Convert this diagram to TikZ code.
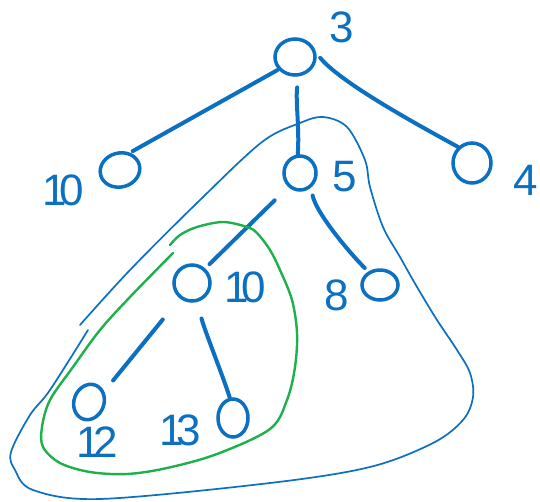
\documentclass[tikz,border=0pt]{standalone}
\usepackage{fontspec}
\setmainfont{Liberation Sans}
\usetikzlibrary{shapes.geometric}
\definecolor{inkblue}{HTML}{0B6FC2}
\definecolor{inkgreen}{HTML}{1DB04B}
\begin{document}
\begin{tikzpicture}[x=1pt,y=-1pt,
  vert/.style={ellipse,draw=inkblue,line width=3.5pt,inner sep=0pt},
  edge/.style={draw=inkblue,line width=4pt,line cap=round},
  lbl/.style={text=inkblue,font=\fontsize{44}{44}\selectfont,inner sep=0pt},
  loopb/.style={draw=inkblue,line width=1.7pt,line cap=round,line join=round},
  loopg/.style={draw=inkgreen,line width=2.4pt,line cap=round,line join=round}]
\useasboundingbox (0,0) rectangle (540,501);
% vertices
\node[vert,minimum width=40pt,minimum height=36pt] (r) at (295,57) {};
\node[vert,minimum width=40pt,minimum height=34pt,rotate=15] (a) at (120,170) {};
\node[vert,minimum width=32pt,minimum height=34pt] (b) at (300,173) {};
\node[vert,minimum width=38pt,minimum height=40pt] (c) at (472,163) {};
\node[vert,minimum width=36pt,minimum height=36pt] (d) at (192,283) {};
\node[vert,minimum width=36pt,minimum height=30pt] (e) at (380,285) {};
\node[vert,minimum width=30pt,minimum height=36pt,rotate=-20] (f) at (89,402) {};
\node[vert,minimum width=30pt,minimum height=38pt] (g) at (233,418) {};
% labels
\node[lbl] (lr) at (342,27) {3};
\node[lbl] (la) at (63,190) {1\kern-7pt 0};
\node[lbl] (lb) at (345,177) {5};
\node[lbl] (lc) at (526,180) {4};
\node[lbl] (ld) at (245,287) {1\kern-7pt 0};
\node[lbl] (le) at (337,295) {8};
\node[lbl] (lf) at (97,442) {1\kern-7pt 2};
\node[lbl] (lg) at (180,430) {1\kern-7pt 3};
% edges
\draw[edge,shorten <=1pt,shorten >=3pt] (r.217) -- (a.45);
\draw[edge,shorten <=11pt] (r.-80) .. controls +(-3,25) and +(2,-25) .. (b.97);
\draw[edge,shorten <=6pt] (r.10) .. controls +(25,30) and +(-40,-22) .. (c.131);
\draw[edge,shorten <=19pt,shorten >=6pt] (b.230) -- (d.48);
\draw[edge,shorten <=8pt,shorten >=5pt] (b.-53) .. controls +(5,25) and +(-20,-20) .. (e.131);
\draw[edge,shorten <=27pt,shorten >=14pt] (d.232) -- (f.55);
\draw[edge,shorten <=17pt] (d.-75) .. controls +(8,30) and +(-8,-25) .. (g.99);
% blue outer loop
\draw[loopb] plot[smooth,tension=0.55] coordinates {(80,325) (130,270) (200,200) (262,142) (300,123) (323,117) (347,127) (365,160) (370,187) (383,227) (400,257) (417,287) (437,320) (457,350) (470,373) (473,397) (463,420) (433,443) (370,467) (270,483) (100,499) (33,490) (15,470) (11,452) (30,415) (50,390) (88,330)};
% green loop
\draw[loopg] plot[smooth,tension=0.55] coordinates {(173,253) (130,297) (100,330) (73,367) (50,400) (42,427) (43,447) (60,463) (90,472) (127,474) (167,468) (217,454) (270,429) (287,400) (295,367) (297,333) (292,300) (280,270) (270,250) (257,233) (247,227) (223,222) (197,227) (180,235) (170,245)};
\end{tikzpicture}
\end{document}
